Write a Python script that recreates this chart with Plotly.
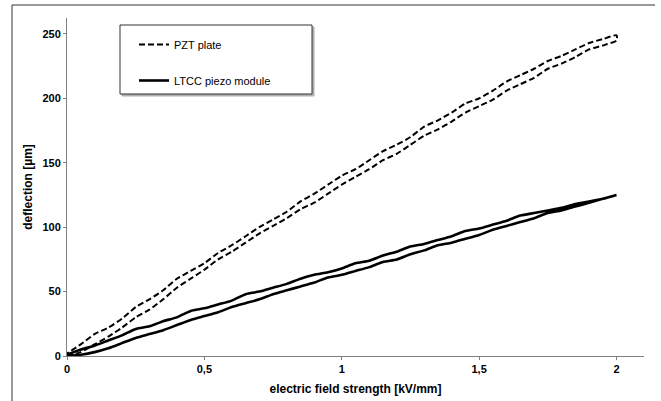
import plotly.graph_objects as go

# ---- data ----
field_up = [0.0, 0.05, 0.1, 0.15, 0.2, 0.25, 0.3, 0.35, 0.4, 0.45, 0.5,
            0.55, 0.6, 0.65, 0.7, 0.75, 0.8, 0.85, 0.9, 0.95, 1.0,
            1.05, 1.1, 1.15, 1.2, 1.25, 1.3, 1.35, 1.4, 1.45, 1.5,
            1.55, 1.6, 1.65, 1.7, 1.75, 1.8, 1.85, 1.9, 1.95, 2.0]
field_down = field_up[::-1]

pzt_up = [0, 3, 9, 15, 22, 30, 36, 44, 53, 60, 67, 75, 81, 88, 95, 101, 107, 114, 119, 126,
          133, 139, 145, 152, 157, 164, 171, 176, 182, 189, 194, 199, 206, 211, 216, 223,
          227, 232, 238, 241, 245]
pzt_down = [249, 246, 243, 238, 233, 229, 223, 218, 213, 206, 200, 196, 189, 183, 178, 170,
            164, 159, 152, 145, 140, 133, 126, 120, 112, 106, 100, 93, 86, 80, 72, 66, 60,
            51, 44, 38, 29, 22, 17, 9, 2]

ltcc_up = [0, 1, 3, 6, 10, 14, 17, 20, 24, 28, 31, 34, 38, 41, 44, 48, 51, 54, 57, 61,
           63, 66, 69, 73, 75, 79, 82, 86, 88, 91, 94, 98, 101, 104, 107, 111, 113, 116,
           119, 122, 125]
ltcc_down = [125, 122, 120, 118, 115, 113, 111, 109, 105, 102, 99, 97, 93, 90, 87, 85, 81,
             78, 74, 72, 68, 65, 63, 60, 56, 53, 50, 48, 43, 40, 37, 35, 30, 27, 23, 21, 16,
             12, 8, 5, 1]

x_tickvals = [0, 0.5, 1, 1.5, 2]
x_ticktext = ["0", "0,5", "1", "1,5", "2"]
y_tickvals = [0, 50, 100, 150, 200, 250]

# ---- figure ----
W, H = 661, 401
L, R, T, B = 67, 17, 18, 45
pw, ph = W - L - R, H - T - B

def px2paper_x(px):
    return (px - L) / pw

def px2paper_y(py):
    return (H - B - py) / ph

fig = go.Figure()
fig.add_trace(go.Scatter(
    x=field_up + field_down, y=pzt_up + pzt_down, mode="lines",
    name="PZT plate", legendgroup="a",
    line=dict(color="black", width=2, dash="6px,3px", shape="spline", smoothing=0.6),
))
fig.add_trace(go.Scatter(
    x=field_up + field_down, y=ltcc_up + ltcc_down, mode="lines",
    name="LTCC piezo module", legendgroup="b",
    line=dict(color="black", width=2.6, shape="spline", smoothing=0.6),
))

font_family = "Liberation Sans, Arial, sans-serif"

fig.update_layout(
    width=W, height=H,
    margin=dict(l=L, r=R, t=T, b=B, autoexpand=False),
    paper_bgcolor="white", plot_bgcolor="white",
    font=dict(family=font_family, color="black", size=11),
    showlegend=True,
    legend=dict(
        x=px2paper_x(134), y=px2paper_y(30), xanchor="left", yanchor="top",
        bgcolor="rgba(0,0,0,0)", borderwidth=0,
        font=dict(size=11, family=font_family),
        tracegroupgap=17, traceorder="grouped", itemwidth=30,
    ),
    xaxis=dict(
        range=[0, 2.10], tickvals=x_tickvals, ticktext=x_ticktext,
        automargin=False,
        showgrid=False, zeroline=False, showline=True, linecolor="#808080",
        linewidth=1, ticks="outside", ticklen=3, tickcolor="#808080",
        tickfont=dict(size=11, weight="bold"),
        title=dict(text="electric field strength [kV/mm]",
                   font=dict(size=12, weight="bold"), standoff=10),
    ),
    yaxis=dict(
        range=[0, 262.4], tickvals=y_tickvals,
        automargin=False,
        showgrid=False, zeroline=False, showline=True, linecolor="#808080",
        linewidth=1, ticks="outside", ticklen=3, tickcolor="#808080",
        tickfont=dict(size=11, weight="bold"),
        title=dict(text="deflection [µm]",
                   font=dict(size=12, weight="bold"), standoff=7),
    ),
    shapes=[
        # outer frame (top and left visible)
        dict(type="line", xref="paper", yref="paper",
             x0=px2paper_x(12), x1=px2paper_x(655),
             y0=px2paper_y(5), y1=px2paper_y(5),
             line=dict(color="#333333", width=1)),
        dict(type="line", xref="paper", yref="paper",
             x0=px2paper_x(12), x1=px2paper_x(12),
             y0=px2paper_y(5), y1=px2paper_y(401),
             line=dict(color="#333333", width=1)),
        # legend shadow
        dict(type="rect", xref="paper", yref="paper",
             x0=px2paper_x(122), x1=px2paper_x(314),
             y0=px2paper_y(96), y1=px2paper_y(27),
             line=dict(color="#b0b0b0", width=1), fillcolor="#b0b0b0", layer="below"),
        # legend box
        dict(type="rect", xref="paper", yref="paper",
             x0=px2paper_x(120), x1=px2paper_x(312),
             y0=px2paper_y(94), y1=px2paper_y(25),
             line=dict(color="#333333", width=1), fillcolor="white", layer="below"),
    ],
)

fig.write_html("out.html")
